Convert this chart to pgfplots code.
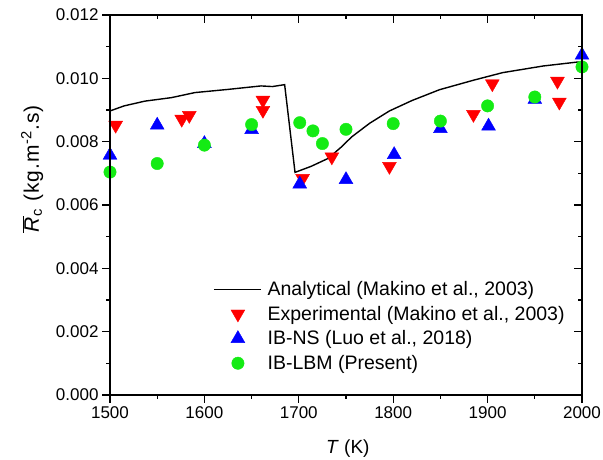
\documentclass[border=0pt]{standalone}
\usepackage{fontspec}
\setmainfont{Liberation Sans}
\usepackage{pgfplots}
\pgfplotsset{compat=1.18}
\definecolor{myred}{RGB}{255,0,0}
\definecolor{myblue}{RGB}{0,0,255}
\definecolor{mygreen}{RGB}{20,235,20}
\begin{document}
\begin{tikzpicture}
\begin{axis}[name=ax, scale only axis, width=472pt, height=380pt,
  xmin=1500, xmax=2000, ymin=0, ymax=0.012,
  xtick={1500,1600,...,2000}, ytick={0,0.002,0.004,0.006,0.008,0.010,0.012},
  minor x tick num=1, minor y tick num=1,
  tick align=outside, xtick pos=bottom, ytick pos=left,
  major tick length=8pt, minor tick length=4pt,
  axis line style={line width=1.4pt}, tick style={line width=1.1pt, color=black},
  scaled y ticks=false,
  /pgf/number format/assume math mode=true,
  xticklabel style={/pgf/number format/.cd, 1000 sep={}},
  yticklabel style={/pgf/number format/.cd, fixed, fixed zerofill, precision=3},
  tick label style={font=\fontsize{17}{20}\selectfont},
  xlabel style={font=\fontsize{19}{22}\selectfont},
  ylabel style={font=\fontsize{21}{24}\addfontfeature{LetterSpace=5}\selectfont},
  xlabel={\textit{T} (K)},
  ylabel={$\overline{\mbox{\textit{R}}}$\textsubscript{c} (kg.m\textsuperscript{-2}.s)},
  xlabel style={at={(axis description cs:0.504,-0.142)}, anchor=center},
  ylabel style={at={(axis description cs:-0.165,0.595)}, anchor=center},
  legend style={draw=none, fill=none, at={(0.214,0.052)}, anchor=south west,
    font=\fontsize{19.5}{22}\selectfont, row sep=5pt, inner sep=2pt,
    /tikz/every odd column/.append style={column sep=4pt}},
  legend cell align=left,
  legend image code/.code={\draw[mark repeat=2, mark phase=2, #1] plot coordinates {(0pt,0pt) (24pt,0pt) (47pt,0pt)};},
]
\addplot[black, line width=1.4pt, mark=none] coordinates {
(1500,0.00897) (1515,0.00913) (1537,0.00928) (1565,0.00939) (1590,0.00955)
(1625,0.00965) (1660,0.00976) (1672,0.00974) (1685,0.00980) (1696,0.00703)
(1713,0.00722) (1731,0.00747) (1745,0.00783) (1756,0.00815) (1775,0.00858)
(1796,0.00897) (1820,0.00930) (1849,0.00964) (1885,0.00994) (1916,0.01018)
(1959,0.01039) (1994,0.01051) (2000,0.01052)};
\addlegendentry{Analytical (Makino et al., 2003)}
\addplot[only marks, mark=triangle*, mark size=8pt, mark options={rotate=180, fill=myred, draw=myred}] coordinates {
(1506,0.00852) (1576,0.00871) (1584,0.00883) (1662,0.00931) (1662,0.00899)
(1704,0.00684) (1735,0.00752) (1796,0.00722) (1885,0.00886) (1905,0.00983)
(1974,0.00991) (1976,0.00925)};
\addlegendentry{Experimental (Makino et al., 2003)}
\addplot[only marks, mark=triangle*, mark size=8pt, mark options={fill=myblue, draw=myblue}] coordinates {
(1500,0.00757) (1550,0.00852) (1600,0.00794) (1650,0.00838) (1701,0.00666)
(1750,0.00680) (1801,0.00759) (1850,0.00841) (1901,0.00849) (1950,0.00933)
(2000,0.01073)};
\addlegendentry{IB-NS (Luo et al., 2018)}
\addplot[only marks, mark=*, mark size=6.2pt, mark options={fill=mygreen, draw=mygreen}] coordinates {
(1500,0.00704) (1550,0.00731) (1600,0.00789) (1650,0.00854) (1701,0.00860)
(1715,0.00834) (1725,0.00794) (1750,0.00839) (1800,0.00857) (1850,0.00865)
(1900,0.00913) (1950,0.00941) (2000,0.01036)};
\addlegendentry{IB-LBM (Present)}
\end{axis}
\begin{axis}[scale only axis, width=472pt, height=380pt,
  xmin=1500, xmax=2000, ymin=0, ymax=0.012,
  xtick={1500,1600,...,2000}, ytick={0,0.002,0.004,0.006,0.008,0.010,0.012},
  minor x tick num=1, minor y tick num=1,
  tick align=inside, xtick pos=top, ytick pos=right,
  major tick length=8pt, minor tick length=4pt,
  axis line style={line width=1.4pt}, tick style={line width=1.1pt, color=black},
  xticklabels={}, yticklabels={}, scaled y ticks=false]
\end{axis}
\pgfresetboundingbox
\useasboundingbox ([shift={(-110pt,-64pt)}]ax.south west) rectangle ([shift={(21pt,15pt)}]ax.north east);
\end{tikzpicture}
\end{document}
